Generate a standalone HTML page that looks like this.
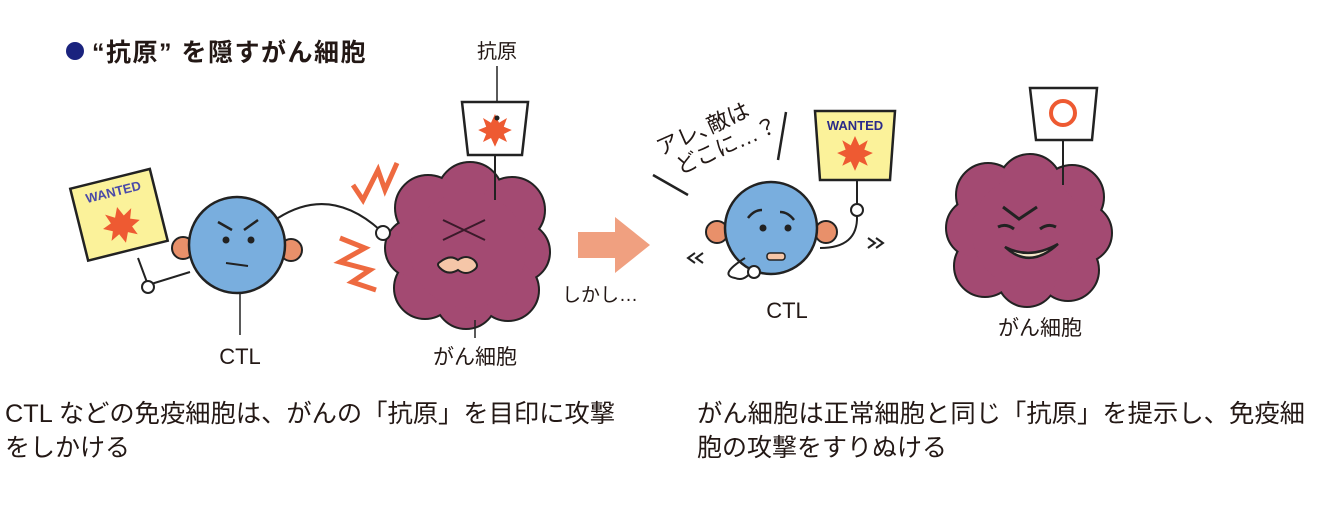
<!DOCTYPE html>
<html><head><meta charset="utf-8"><style>
html,body{margin:0;padding:0;background:#fff;}
svg{display:block;}
text{font-family:"Liberation Sans","Noto Sans CJK JP",sans-serif;fill:#231815;}
</style></head><body>
<svg width="1317" height="509" viewBox="0 0 1317 509">
<defs>
<g id="star"><polygon points="0,-20 5,-9 15,-15 11,-4 21,0 11,5 15,15 5,10 0,21 -5,10 -15,15 -11,5 -21,0 -11,-4 -15,-15 -5,-9" fill="#ee5a32"/></g>
</defs>
<circle cx="75" cy="51" r="9" fill="#1a237e"/>
<text x="92" y="61" font-size="25" font-weight="bold" letter-spacing="1.5">“抗原” を隠すがん細胞</text>
<text x="497" y="58" font-size="20" text-anchor="middle">抗原</text>
<line x1="497" y1="66" x2="497" y2="110" stroke="#222" stroke-width="1.5"/>

<g transform="rotate(-14 118 215)">
<rect x="78" y="178" width="82" height="74" fill="#fbf29a" stroke="#222" stroke-width="2.5"/>
<text x="119" y="196" font-size="13" font-weight="bold" text-anchor="middle" style="fill:#4a4aa8">WANTED</text>
<use href="#star" transform="translate(119,225) scale(0.9)"/>
</g>
<polyline points="138,258 148,285 190,272" fill="none" stroke="#222" stroke-width="2"/>
<circle cx="148" cy="287" r="6" fill="#fff" stroke="#222" stroke-width="2"/>
<circle cx="183" cy="248" r="11" fill="#e8906a" stroke="#222" stroke-width="2"/>
<circle cx="291" cy="250" r="11" fill="#e8906a" stroke="#222" stroke-width="2"/>
<circle cx="237" cy="245" r="48" fill="#79aede" stroke="#222" stroke-width="2.5"/>
<path d="M218 222 L232 230 M258 220 L244 230" stroke="#222" stroke-width="2.5"/>
<circle cx="226" cy="240" r="3.5" fill="#222"/><circle cx="251" cy="240" r="3.5" fill="#222"/>
<line x1="226" y1="263" x2="248" y2="266" stroke="#222" stroke-width="2"/>
<line x1="240" y1="293" x2="240" y2="335" stroke="#222" stroke-width="1.5"/>
<text x="240" y="364" font-size="22" text-anchor="middle">CTL</text>
<path d="M278 218 Q330 185 380 230" fill="none" stroke="#222" stroke-width="2"/>
<polyline points="353,185 363,200 378,170 385,190 397,163" fill="none" stroke="#ee6a40" stroke-width="5"/>
<polyline points="340,238 365,248 340,262 370,270 352,282 376,290" fill="none" stroke="#ee6a40" stroke-width="5"/>

<g stroke="#222" stroke-width="4" fill="#a34a72">
<circle cx="428" cy="208" r="32"/><circle cx="470" cy="195" r="32"/><circle cx="512" cy="210" r="32"/>
<circle cx="520" cy="252" r="29"/><circle cx="508" cy="290" r="30"/><circle cx="466" cy="298" r="30"/>
<circle cx="425" cy="288" r="30"/><circle cx="415" cy="248" r="29"/>
</g>
<g fill="#a34a72">
<circle cx="428" cy="208" r="32"/><circle cx="470" cy="195" r="32"/><circle cx="512" cy="210" r="32"/>
<circle cx="520" cy="252" r="29"/><circle cx="508" cy="290" r="30"/><circle cx="466" cy="298" r="30"/>
<circle cx="425" cy="288" r="30"/><circle cx="415" cy="248" r="29"/><circle cx="468" cy="250" r="58"/>
</g>
<circle cx="383" cy="233" r="7" fill="#fff" stroke="#222" stroke-width="2"/>
<path d="M443 220 L485 240 M443 240 L485 220" stroke="#3a1a2a" stroke-width="2"/>
<path d="M440 262 q10 -8 18 -2 q8 -6 16 0 q6 6 0 10 q-8 6 -16 0 q-10 6 -18 -2 q-4 -4 0 -6z" fill="#f5c6a8" stroke="#222" stroke-width="2"/>
<polygon points="462,102 528,102 522,155 468,155" fill="#fff" stroke="#222" stroke-width="2.5"/>
<use href="#star" transform="translate(495,130) scale(0.8)"/>
<circle cx="497" cy="118" r="2.5" fill="#222"/>
<line x1="495" y1="155" x2="495" y2="200" stroke="#222" stroke-width="2"/>
<line x1="475" y1="320" x2="475" y2="338" stroke="#222" stroke-width="1.5"/>
<text x="475" y="364" font-size="21" text-anchor="middle">がん細胞</text>

<polygon points="578,232 615,232 615,217 650,245 615,273 615,258 578,258" fill="#f0a080"/>
<text x="562" y="301" font-size="19">しかし…</text>

<g transform="rotate(-24 705 145)">
<text x="660" y="137" font-size="22">アレ､敵は</text>
<text x="670" y="162" font-size="22">どこに…？</text>
</g>
<line x1="653" y1="175" x2="688" y2="195" stroke="#222" stroke-width="2.5"/>
<line x1="786" y1="112" x2="778" y2="160" stroke="#222" stroke-width="2.5"/>
<polygon points="815,111 895,111 890,180 820,180" fill="#fbf29a" stroke="#222" stroke-width="2.5"/>
<text x="855" y="130" font-size="13" font-weight="bold" text-anchor="middle" style="fill:#2a2a8a">WANTED</text>
<use href="#star" transform="translate(855,153) scale(0.85)"/>
<line x1="857" y1="180" x2="857" y2="205" stroke="#222" stroke-width="2"/>
<circle cx="857" cy="210" r="6" fill="#fff" stroke="#222" stroke-width="2"/>
<path d="M857 216 Q858 248 820 248" fill="none" stroke="#222" stroke-width="2"/>
<circle cx="717" cy="232" r="11" fill="#e8906a" stroke="#222" stroke-width="2"/>
<circle cx="826" cy="232" r="11" fill="#e8906a" stroke="#222" stroke-width="2"/>
<circle cx="771" cy="228" r="46" fill="#79aede" stroke="#222" stroke-width="2.5"/>
<path d="M748 218 q6 -8 14 -8 M780 212 q8 0 14 8" fill="none" stroke="#222" stroke-width="2.5"/>
<circle cx="763" cy="228" r="3.5" fill="#222"/><circle cx="788" cy="228" r="3.5" fill="#222"/>
<rect x="767" y="253" width="18" height="7" rx="3" fill="#f5c6a8" stroke="#222" stroke-width="1.5"/>
<path d="M745 258 Q718 275 735 278 Q745 282 752 270" fill="none" stroke="#222" stroke-width="2"/>
<circle cx="754" cy="272" r="6" fill="#fff" stroke="#222" stroke-width="2"/>
<path d="M695 253 l-7 5 l7 5 M703 253 l-7 5 l7 5" fill="none" stroke="#222" stroke-width="2"/>
<path d="M868 238 l7 5 l-7 5 M876 238 l7 5 l-7 5" fill="none" stroke="#222" stroke-width="2"/>
<text x="787" y="318" font-size="22" text-anchor="middle">CTL</text>

<g stroke="#222" stroke-width="4" fill="#a34a72">
<circle cx="988" cy="195" r="31"/><circle cx="1030" cy="186" r="31"/><circle cx="1072" cy="197" r="31"/>
<circle cx="1082" cy="233" r="29"/><circle cx="1068" cy="270" r="30"/><circle cx="1027" cy="277" r="29"/>
<circle cx="985" cy="266" r="30"/><circle cx="976" cy="228" r="29"/>
</g>
<g fill="#a34a72">
<circle cx="988" cy="195" r="31"/><circle cx="1030" cy="186" r="31"/><circle cx="1072" cy="197" r="31"/>
<circle cx="1082" cy="233" r="29"/><circle cx="1068" cy="270" r="30"/><circle cx="1027" cy="277" r="29"/>
<circle cx="985" cy="266" r="30"/><circle cx="976" cy="228" r="29"/><circle cx="1028" cy="232" r="56"/>
</g>
<path d="M1003 207 l16 12 l18 -12 M998 227 q8 -4 16 2 M1040 229 q8 -6 16 -2" fill="none" stroke="#222" stroke-width="3"/>
<path d="M1005 247 Q1030 270 1058 244 Q1030 260 1005 247z" fill="#f5e6c8" stroke="#222" stroke-width="2.5"/>
<polygon points="1030,88 1097,88 1092,140 1036,140" fill="#fff" stroke="#222" stroke-width="2.5"/>
<circle cx="1063" cy="113" r="12" fill="none" stroke="#ee5a32" stroke-width="4"/>
<line x1="1063" y1="140" x2="1063" y2="185" stroke="#222" stroke-width="2"/>
<text x="1040" y="335" font-size="21" text-anchor="middle">がん細胞</text>

<text x="5" y="422" font-size="25" textLength="610" lengthAdjust="spacingAndGlyphs">CTL などの免疫細胞は、がんの「抗原」を目印に攻撃</text>
<text x="5" y="456" font-size="25">をしかける</text>
<text x="697" y="422" font-size="25" textLength="608" lengthAdjust="spacingAndGlyphs">がん細胞は正常細胞と同じ「抗原」を提示し、免疫細</text>
<text x="697" y="456" font-size="25">胞の攻撃をすりぬける</text>
</svg>
</body></html>
